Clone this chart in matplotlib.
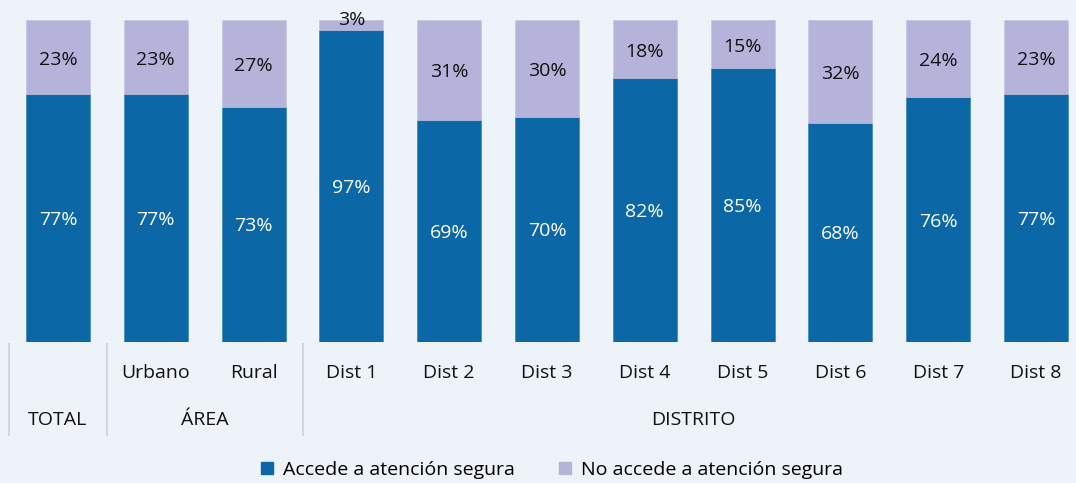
"""Stacked 100% bars: acceso a atención segura por área y distrito."""

import matplotlib
matplotlib.use("Agg")
import matplotlib.pyplot as plt
from matplotlib.lines import Line2D

plt.rcParams["font.family"] = ["Open Sans", "DejaVu Sans"]

# data
categories = ["", "Urbano", "Rural", "Dist 1", "Dist 2", "Dist 3", "Dist 4",
              "Dist 5", "Dist 6", "Dist 7", "Dist 8"]
accede = [77, 77, 73, 97, 69, 70, 82, 85, 68, 76, 77]
no_accede = [23, 23, 27, 3, 31, 30, 18, 15, 32, 24, 23]
groups = ["TOTAL", "ÁREA", "DISTRITO"]
group_spans = [(0, 0), (1, 2), (3, 10)]
series_names = ["Accede a atención segura", "No accede a atención segura"]

BG = "#eef2f9"
DARK = "#0b67a5"
LIGHT = "#b5b3da"
SEP = "#d4d6dc"

W, H, DPI = 1076, 483, 100
fig = plt.figure(figsize=(W / DPI, H / DPI), dpi=DPI, facecolor=BG)

# axes placed so that bar centres land on the reference pixels
step = 97.8
x0 = 58
ax = fig.add_axes([0, (H - 342) / H, 1, 322 / H])
ax.set_facecolor(BG)
ax.set_xlim(-x0 / step, (W - x0) / step)
ax.set_ylim(0, 100)
ax.axis("off")

x = list(range(len(categories)))
bw = 64 / step
ax.bar(x, accede, width=bw, color=DARK, edgecolor="#2a7ab3", linewidth=0.4)
ax.bar(x, no_accede, width=bw, bottom=accede, color=LIGHT,
       edgecolor="#c4c3e4", linewidth=0.4)

fs = 14
for xi, a, n in zip(x, accede, no_accede):
    ax.text(xi, a / 2 - 0.6, f"{a}%", ha="center", va="center", color="white", fontsize=fs)
    ny = a + n / 2 - 0.8 if n >= 6 else 100
    ax.text(xi, ny, f"{n}%", ha="center", va="center", color="#111111", fontsize=fs)

# category and group labels below the bars
for xi, lab in zip(x, categories):
    ax.text(xi, -9.6, lab, ha="center", va="center", fontsize=fs, color="#111111",
            clip_on=False)
for name, (a, b) in zip(groups, group_spans):
    ax.text((a + b) / 2, -24.2, name, ha="center", va="center", fontsize=fs,
            color="#111111", clip_on=False)

for a, b in group_spans:
    ax.plot([a - 0.5, a - 0.5], [-0.4, -29.2], color=SEP, linewidth=1.4,
            clip_on=False, solid_capstyle="butt")

handles = [Line2D([], [], marker="s", linestyle="none", markersize=8.5,
                  markerfacecolor=c, markeredgecolor=c) for c in (DARK, LIGHT)]
fig.legend(handles, series_names, loc="center", bbox_to_anchor=(0.512, 1 - 470 / H),
           ncol=2, frameon=False, fontsize=fs, handlelength=0.8, handletextpad=0.4,
           columnspacing=2.2)

fig.savefig("out.png", dpi=DPI, facecolor=BG)
